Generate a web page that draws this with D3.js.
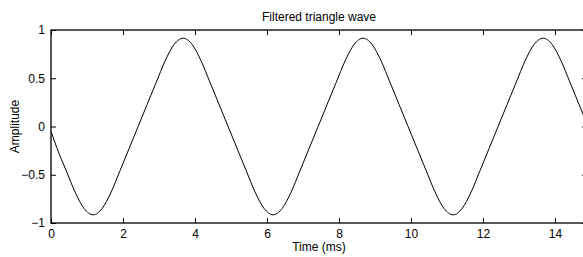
<!DOCTYPE html>
<html>
<head>
<meta charset="utf-8">
<script src="https://cdn.jsdelivr.net/npm/d3@7"></script>
<style>
  body { margin: 0; background: #fff; }
  text { font-family: "Liberation Sans", Arial, sans-serif; fill: #000; }
</style>
</head>
<body>
<div class="plot"></div>
<script>
// values (time in ms, amplitude)
const times = [0,
  0.17, 0.42, 0.67, 0.92, 1.17, 1.42, 1.67, 1.92, 2.17, 2.42,
  2.67, 2.92, 3.17, 3.42, 3.67, 3.92, 4.17, 4.42, 4.67, 4.92,
  5.17, 5.42, 5.67, 5.92, 6.17, 6.42, 6.67, 6.92, 7.17, 7.42,
  7.67, 7.92, 8.17, 8.42, 8.67, 8.92, 9.17, 9.42, 9.67, 9.92,
  10.17, 10.42, 10.67, 10.92, 11.17, 11.42, 11.67, 11.92, 12.17, 12.42,
  12.67, 12.92, 13.17, 13.42, 13.67, 13.92, 14.17, 14.42, 14.67, 14.9];
const amplitude = [-0.05,
  -0.228, -0.455, -0.68, -0.85, -0.915, -0.85, -0.68, -0.455, -0.228, 0,
  0.228, 0.455, 0.68, 0.85, 0.915, 0.85, 0.68, 0.455, 0.228, 0,
  -0.228, -0.455, -0.68, -0.85, -0.915, -0.85, -0.68, -0.455, -0.228, 0,
  0.228, 0.455, 0.68, 0.85, 0.915, 0.85, 0.68, 0.455, 0.228, 0,
  -0.228, -0.455, -0.68, -0.85, -0.915, -0.85, -0.68, -0.455, -0.228, 0,
  0.228, 0.455, 0.68, 0.85, 0.915, 0.85, 0.68, 0.455, 0.228, 0.02];
const xTicks = [0, 2, 4, 6, 8, 10, 12, 14];
const yTicks = [-1, -0.5, 0, 0.5, 1];

const width = 583, height = 257;
const margin = { top: 30, right: -4, bottom: 34, left: 51 };
const innerW = width - margin.left - margin.right,
  innerH = height - margin.top - margin.bottom;

const svg = d3.select(".plot")
  .append("svg")
  .attr("width", width)
  .attr("height", height);

const g = svg.append("g")
  .attr("transform", `translate(${margin.left},${margin.top})`);

const x = d3.scaleLinear().domain([0, 14.89]).range([0, innerW]);
const y = d3.scaleLinear().domain([-1, 1]).range([innerH, 0]);

const fmt = d => (d < 0 ? "\u2212" + Math.abs(d) : String(d));

// bottom axis with ticks pointing inward
const xAx = g.append("g")
  .attr("transform", `translate(0,${innerH})`)
  .call(d3.axisBottom(x).tickValues(xTicks).tickSizeInner(-5).tickSizeOuter(0).tickPadding(6).tickFormat(fmt));
// top mirror ticks
const xTop = g.append("g")
  .call(d3.axisTop(x).tickValues(xTicks).tickSizeInner(-5).tickSizeOuter(0).tickFormat(""));
// left axis
const yAx = g.append("g")
  .call(d3.axisLeft(y).tickValues(yTicks).tickSizeInner(-5).tickSizeOuter(0).tickPadding(6).tickFormat(fmt));
// right mirror ticks
const yRight = g.append("g")
  .attr("transform", `translate(${innerW},0)`)
  .call(d3.axisRight(y).tickValues(yTicks).tickSizeInner(-5).tickSizeOuter(0).tickFormat(""));

[xAx, xTop, yAx, yRight].forEach(a => {
  a.selectAll(".domain").remove();
  a.selectAll("line").attr("stroke", "#000").attr("stroke-width", 1);
  a.selectAll("text").style("font-size", "12px").attr("font-family", null);
});

// box
g.append("rect")
  .attr("x", 0).attr("y", 0)
  .attr("width", innerW).attr("height", innerH)
  .attr("fill", "none")
  .attr("stroke", "#000")
  .attr("stroke-width", 1.3);

// curve
g.append("path")
  .datum(times.map((t, i) => [t, amplitude[i]]))
  .attr("fill", "none")
  .attr("stroke", "#000")
  .attr("stroke-width", 1)
  .attr("d", d3.line()
    .curve(d3.curveMonotoneX)
    .x(d => x(d[0]))
    .y(d => y(d[1])));

// title and labels
svg.append("text")
  .attr("x", margin.left + innerW / 2)
  .attr("y", 21)
  .attr("text-anchor", "middle")
  .style("font-size", "12px")
  .text("Filtered triangle wave");

svg.append("text")
  .attr("x", margin.left + innerW / 2)
  .attr("y", 251)
  .attr("text-anchor", "middle")
  .style("font-size", "12px")
  .text("Time (ms)");

svg.append("text")
  .attr("transform", `translate(19,${margin.top + innerH / 2}) rotate(-90)`)
  .attr("text-anchor", "middle")
  .style("font-size", "12px")
  .text("Amplitude");
</script>
</body>
</html>
